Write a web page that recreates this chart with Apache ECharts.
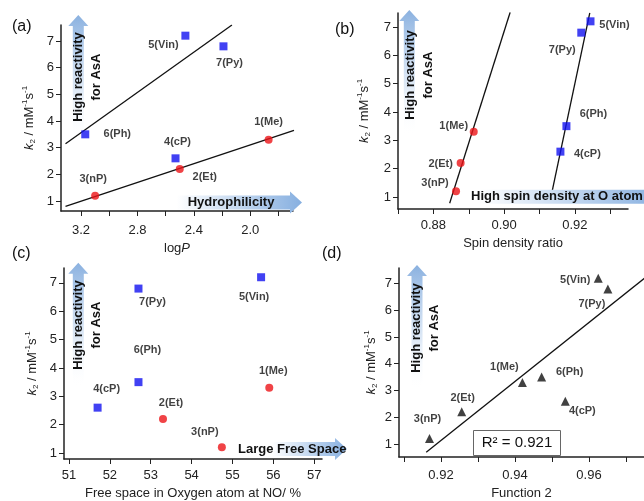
<!DOCTYPE html>
<html>
<head>
<meta charset="utf-8">
<script src="https://cdn.jsdelivr.net/npm/echarts@6/dist/echarts.min.js"></script>
<style>
html, body { margin: 0; padding: 0; background: #fff; }
#chart { width: 644px; height: 501px; }
</style>
</head>
<body>
<div id="chart"></div>
<script>
// compounds, same order in every panel
let names = ['1(Me)', '2(Et)', '3(nP)', '4(cP)', '5(Vin)', '6(Ph)', '7(Py)'];
let k2 = [3.3, 2.2, 1.2, 2.6, 7.2, 3.5, 6.8];
let logP = [1.87, 2.50, 3.10, 2.53, 2.46, 3.17, 2.19];
let spinRatio = [0.8914, 0.8877, 0.8864, 0.9159, 0.9244, 0.9176, 0.9218];
let freeSpace = [55.9, 53.3, 54.74, 51.7, 55.7, 52.7, 52.7];
let func2 = [0.942, 0.9256, 0.9169, 0.9536, 0.9625, 0.9472, 0.9651];

let redGroup = [0, 1, 2];
let blueGroup = [3, 4, 5, 6];

// regression lines, two ends
let fitA_blue = [[3.31, 3.15], [2.13, 7.6]];
let fitA_red = [[3.31, 0.8], [1.69, 3.65]];
let fitB_red = [[0.8846, 0.78], [0.9017, 7.52]];
let fitB_blue = [[0.9129, 0.81], [0.9242, 7.5]];
let fitD = [[0.916, 0.69], [0.975, 7.2]];

// tick values
let kTicks = [1, 2, 3, 4, 5, 6, 7];
let ticksA = [1.8, 2.0, 2.2, 2.4, 2.6, 2.8, 3.0, 3.2];
let labelsA = [2.0, 2.4, 2.8, 3.2];
let ticksB = [0.87, 0.88, 0.89, 0.90, 0.91, 0.92, 0.93];
let labelsB = [0.88, 0.90, 0.92];
let ticksC = [51, 52, 53, 54, 55, 56, 57];
let ticksD = [0.91, 0.92, 0.93, 0.94, 0.95, 0.96, 0.97];
let labelsD = [0.92, 0.94, 0.96];

// label offsets (px) for each compound, per panel
let offA = [[0, -18], [25, 8], [-2, -17], [2, -16], [-22, 9], [32, 0], [6, 17]];
let offB = [[-20, -6], [-20, 1], [-21, -8], [27, 2], [24, 4], [27, -12], [-19, 17]];
let offC = [[4, -17], [8, -16], [-17, -15], [9, -19], [-7, 20], [9, -32], [14, 13]];
let offD = [[-18, -15], [1, -14], [-2, -20], [17, 10], [-23, 2], [28, -5], [-16, 15]];

let font = 'Liberation Sans, Arial, sans-serif';
let red = '#ec1418';
let blue = '#1212f0';

function points(xs, idx, offs) {
      return idx.map(function (i) {
            return {
                  value: [xs[i], k2[i]],
                  label: { formatter: names[i], offset: offs[i] }
            };
      });
}

function scatter(xi, data, symbol, color) {
      return {
            type: 'scatter', xAxisIndex: xi, yAxisIndex: xi,
            symbol: symbol, symbolSize: symbol === 'triangle' ? 9 : 8,
            itemStyle: { color: color },
            label: { show: true, position: 'inside', color: '#111', fontFamily: font, fontWeight: 'bold', fontSize: 11 },
            data: data, z: 4
      };
}

function fitLine(xi, data) {
      return {
            type: 'line', xAxisIndex: xi, yAxisIndex: xi, showSymbol: false, silent: true,
            lineStyle: { color: '#111', width: 1.3 }, data: data, z: 3
      };
}

let kName = '{i|k}{sub|2}{n| / mM}{sup|-1}{n|s}{sup|-1}';
let kRich = {
      n: { fontSize: 13, fontFamily: font, color: '#222', lineHeight: 16 },
      i: { fontSize: 13, fontFamily: font, color: '#222', fontStyle: 'italic', lineHeight: 16 },
      sub: { fontSize: 8, fontFamily: font, color: '#222', verticalAlign: 'bottom', lineHeight: 16 },
      sup: { fontSize: 8, fontFamily: font, color: '#222', verticalAlign: 'top', lineHeight: 16 }
};

function yAxis(g, min, max, gap) {
      return {
            type: 'value', gridIndex: g, min: min, max: max,
            name: kName, nameLocation: 'middle', nameRotate: 90, nameGap: gap,
            nameTextStyle: { rich: kRich },
            axisLine: { show: true, lineStyle: { color: '#222', width: 1.5 } },
            axisTick: { show: true, length: 5, customValues: kTicks, lineStyle: { color: '#222' } },
            axisLabel: { customValues: kTicks, margin: 7, color: '#222', fontFamily: font, fontSize: 13 },
            splitLine: { show: false }
      };
}

function xAxis(g, min, max, ticks, labels, digits, name, margin, inverse) {
      return {
            type: 'value', gridIndex: g, min: min, max: max, inverse: !!inverse,
            name: name, nameLocation: 'middle', nameGap: margin + 18,
            nameTextStyle: { color: '#222', fontFamily: font, fontSize: 13, rich: {
                  i: { fontStyle: 'italic', fontSize: 13, fontFamily: font, color: '#222' } } },
            axisLine: { show: true, onZero: false, lineStyle: { color: '#222', width: 1.5 } },
            axisTick: { show: true, length: 5, customValues: ticks, lineStyle: { color: '#222' } },
            axisLabel: {
                  customValues: labels, margin: margin, color: '#222', fontFamily: font, fontSize: 13,
                  formatter: function (v) { return v.toFixed(digits); }
            },
            splitLine: { show: false }
      };
}

// blue arrows
function vArrow(cx, tip) {
      return {
            type: 'polygon', z: 0, silent: true,
            shape: { points: [[cx, tip], [cx + 10, tip + 11], [cx + 5.5, tip + 11], [cx + 5.5, tip + 125],
                  [cx - 5.5, tip + 125], [cx - 5.5, tip + 11], [cx - 10, tip + 11]] },
            style: { fill: { type: 'linear', x: 0, y: 0, x2: 0, y2: 1, colorStops: [
                  { offset: 0, color: 'rgba(125,168,220,0.9)' },
                  { offset: 0.6, color: 'rgba(190,212,238,0.5)' },
                  { offset: 1, color: 'rgba(255,255,255,0)' }] } }
      };
}

function hArrow(x0, x1, cy, start) {
      return {
            type: 'polygon', z: 10, silent: true,
            shape: { points: [[x0, cy - 7], [x1 - 12, cy - 7], [x1 - 12, cy - 11], [x1, cy], [x1 - 12, cy + 11],
                  [x1 - 12, cy + 7], [x0, cy + 7]] },
            style: { fill: { type: 'linear', x: 0, y: 0, x2: 1, y2: 0, colorStops: [
                  { offset: 0, color: '#ffffff' },
                  { offset: start, color: '#ffffff' },
                  { offset: 1, color: '#86afe0' }] } }
      };
}

function vText(x, y) {
      return {
            type: 'text', x: x, y: y, rotation: Math.PI / 2, z: 11, silent: true,
            style: { text: 'High reactivity\nfor AsA', fill: '#111', font: 'bold 13px ' + font,
                  align: 'center', verticalAlign: 'middle', textAlign: 'center', textVerticalAlign: 'middle', lineHeight: 18 }
      };
}

function plainText(x, y, text, f, align) {
      return {
            type: 'text', x: x, y: y, z: 11, silent: true,
            style: { text: text, fill: '#111', font: f, align: align || 'left', verticalAlign: 'middle',
                  textAlign: align || 'left', textVerticalAlign: 'middle' }
      };
}

let chart = echarts.init(document.getElementById('chart'));

let option = {
      backgroundColor: '#fff',
      animation: false,
      grid: [
            { left: 61, top: 25, width: 232, height: 186 },
            { left: 398, top: 13, width: 230, height: 196 },
            { left: 64, top: 268, width: 258, height: 192 },
            { left: 399, top: 268, width: 245, height: 198 }
      ],
      xAxis: [
            xAxis(0, 1.697, 3.342, ticksA, labelsA, 1, 'log{i|P}', 13, true),
            xAxis(1, 0.87, 0.935, ticksB, labelsB, 2, 'Spin density ratio', 10),
            xAxis(2, 50.878, 57.19, ticksC, ticksC, 0, 'Free space in Oxygen atom at NO/ %', 10),
            xAxis(3, 0.90865, 0.97486, ticksD, labelsD, 2, 'Function 2', 12)
      ],
      yAxis: [
            yAxis(0, 0.625, 7.6, 24),
            yAxis(1, 0.576, 7.494, 26),
            yAxis(2, 0.789, 7.526, 24),
            yAxis(3, 0.511, 7.582, 20)
      ],
      series: [
            fitLine(0, fitA_blue),
            fitLine(0, fitA_red),
            scatter(0, points(logP, redGroup, offA), 'circle', red),
            scatter(0, points(logP, blueGroup, offA), 'rect', blue),
            fitLine(1, fitB_red),
            fitLine(1, fitB_blue),
            scatter(1, points(spinRatio, redGroup, offB), 'circle', red),
            scatter(1, points(spinRatio, blueGroup, offB), 'rect', blue),
            scatter(2, points(freeSpace, redGroup, offC), 'circle', red),
            scatter(2, points(freeSpace, blueGroup, offC), 'rect', blue),
            fitLine(3, fitD),
            scatter(3, points(func2, [0, 1, 2, 3, 4, 5, 6], offD), 'triangle', '#111')
      ],
      graphic: [
            vArrow(78.3, 15), vArrow(409.3, 10), vArrow(78.3, 262.7), vArrow(417, 265),
            vText(87, 77), vText(419, 75), vText(87.5, 325), vText(425, 328),
            hArrow(170, 302, 202.5, 0.05),
            hArrow(468, 664, 196.7, 0.05),
            hArrow(240, 347, 449, 0.3),
            plainText(187.7, 202.5, 'Hydrophilicity', 'bold 13px ' + font),
            plainText(471, 196.7, 'High spin density at O atom', 'bold 13px ' + font),
            plainText(238, 449, 'Large Free Space', 'bold 13px ' + font),
            {
                  type: 'rect', z: 5, silent: true,
                  shape: { x: 473.5, y: 430.5, width: 87, height: 25 },
                  style: { fill: '#fff', stroke: '#666', lineWidth: 1 }
            },
            plainText(517, 443, 'R\u00b2 = 0.921', '15px ' + font, 'center'),
            plainText(12, 27, '(a)', '16px ' + font),
            plainText(335, 30, '(b)', '16px ' + font),
            plainText(12, 254, '(c)', '16px ' + font),
            plainText(322, 254, '(d)', '16px ' + font)
      ]
};

chart.setOption(option);
</script>
</body>
</html>
